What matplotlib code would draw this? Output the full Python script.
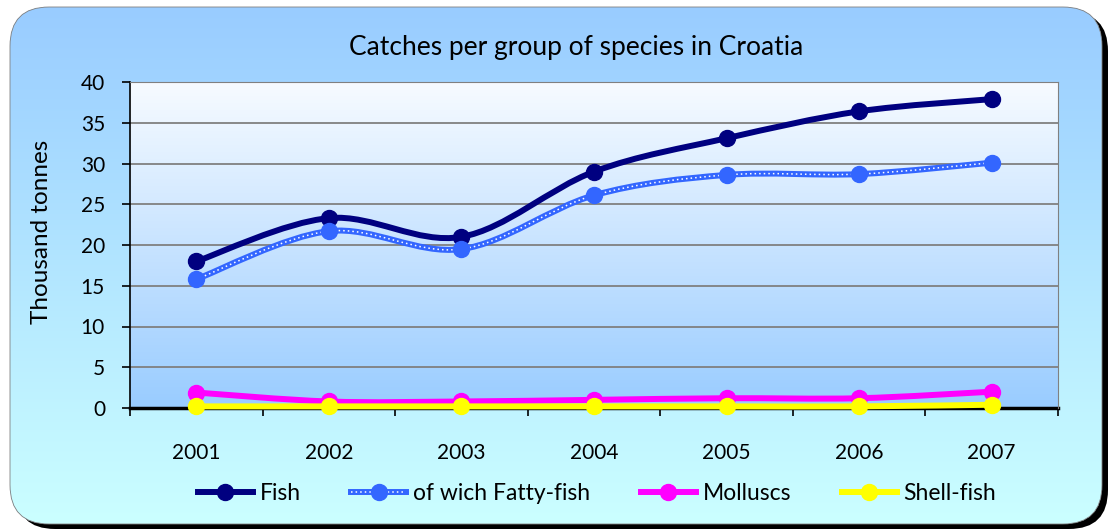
import numpy as np
import matplotlib
matplotlib.use('Agg')
from matplotlib import pyplot as plt
from matplotlib.patches import FancyBboxPatch, PathPatch
from matplotlib.path import Path
from matplotlib.lines import Line2D
from matplotlib.colors import LinearSegmentedColormap

plt.rcParams['font.family'] = ['Lato', 'DejaVu Sans']

years = ['2001', '2002', '2003', '2004', '2005', '2006', '2007']
fish = [18.0, 23.3, 21.0, 29.0, 33.1, 36.4, 37.9]
fatty_fish = [15.8, 21.7, 19.5, 26.1, 28.6, 28.7, 30.1]
molluscs = [1.9, 0.8, 0.8, 1.0, 1.2, 1.2, 2.0]
shell_fish = [0.2, 0.2, 0.2, 0.2, 0.2, 0.2, 0.4]


def smooth_path(xs, ys):
    # Catmull-Rom style bezier like Excel's smoothed lines
    pts = np.column_stack([xs, ys]).astype(float)
    ext = np.vstack([pts[0], pts, pts[-1]])
    verts = [pts[0]]
    codes = [Path.MOVETO]
    for i in range(len(pts) - 1):
        p0, p1, p2, p3 = ext[i], ext[i + 1], ext[i + 2], ext[i + 3]
        c1 = p1 + (p2 - p0) / 6
        c2 = p2 - (p3 - p1) / 6
        verts += [c1, c2, p2]
        codes += [Path.CURVE4] * 3
    return Path(verts, codes)


W, H = 1117, 531
fig = plt.figure(figsize=(W / 100, H / 100), dpi=100)
fig.patch.set_facecolor('white')

# outer rounded frame with shadow and gradient, on a background axes
bx0, by0, bx1, by1 = 10 / W, 1 - 524 / H, 1102 / W, 1 - 7 / H
bg_ax = fig.add_axes([0, 0, 1, 1], zorder=-5)
bg_ax.set_axis_off()


def box(dx=0.0, dy=0.0, **kw):
    return FancyBboxPatch((bx0 + dx, by0 + dy), bx1 - bx0, by1 - by0,
                          boxstyle='round,pad=0,rounding_size=0.035',
                          transform=bg_ax.transAxes, mutation_aspect=W / H, **kw)


bg_ax.add_patch(box(6 / W, -5 / H, facecolor='black', edgecolor='none', zorder=1))
bg_ax.add_patch(box(facecolor='#99ccff', edgecolor='none', zorder=2))
bg_cmap = LinearSegmentedColormap.from_list('bg', ['#99ccff', '#cbffff'])
grad = np.linspace(0, 1, 256).reshape(-1, 1)
im = bg_ax.imshow(grad, cmap=bg_cmap, aspect='auto',
                  extent=[bx0, bx1, by0, by1], zorder=3)
clip = box(facecolor='none', edgecolor='none')
bg_ax.add_patch(clip)
clip.set_visible(False)
im.set_clip_path(clip)
bg_ax.add_patch(box(facecolor='none', edgecolor='#7f7f7f', linewidth=0.6, zorder=4))
bg_ax.set_xlim(0, 1)
bg_ax.set_ylim(0, 1)

ax = fig.add_axes([130 / W, 1 - 408 / H, 928 / W, 326 / H])
ax.patch.set_alpha(0)
pa_cmap = LinearSegmentedColormap.from_list('pa', ['#f7fbff', '#99ccff'])
ax.imshow(grad, cmap=pa_cmap, aspect='auto', extent=[0, 1, 0, 1],
          transform=ax.transAxes, zorder=0)

x = np.arange(1, len(years) + 1)
LW = 4.3
MS = 11.5

ax.add_patch(PathPatch(smooth_path(x, fish), fill=False, edgecolor='#000080',
                       linewidth=LW, zorder=3))
ax.plot(x, fish, 'o', color='#000080', markersize=MS, zorder=4, clip_on=False)

ax.add_patch(PathPatch(smooth_path(x, fatty_fish), fill=False, edgecolor='#3366ff',
                       linewidth=LW, zorder=5))
ax.add_patch(PathPatch(smooth_path(x, fatty_fish), fill=False, edgecolor='white',
                       linewidth=1.1, linestyle=(0, (1, 2)), zorder=5))
ax.plot(x, fatty_fish, 'o', color='#3366ff', markersize=MS, zorder=6, clip_on=False)

ax.add_patch(PathPatch(smooth_path(x, molluscs), fill=False, edgecolor='#ff00ff',
                       linewidth=LW, zorder=7))
ax.plot(x, molluscs, 'o', color='#ff00ff', markersize=MS, zorder=8, clip_on=False)

ax.add_patch(PathPatch(smooth_path(x, shell_fish), fill=False, edgecolor='#ffff00',
                       linewidth=LW, zorder=9, clip_on=False))
ax.plot(x, shell_fish, 'o', color='#ffff00', markersize=MS, zorder=10, clip_on=False)

ax.set_xlim(0.5, 7.5)
ax.set_ylim(0, 40)
ax.set_yticks(range(0, 41, 5))
ax.yaxis.grid(True, color='#808080', linewidth=1.3, zorder=1)
ax.set_axisbelow(True)
ax.set_xticks(np.arange(0.5, 8, 1))
ax.set_xticklabels([])
ax.set_xticks(x, minor=True)
ax.set_xticklabels(years, minor=True, fontsize=15)
ax.tick_params(axis='x', which='major', direction='out', length=6, width=1.2)
ax.tick_params(axis='x', which='minor', length=0, pad=25)
ax.tick_params(axis='y', direction='out', length=6, width=1.2, labelsize=15, pad=12)
for s in ['top', 'right']:
    ax.spines[s].set_color('#808080')
ax.spines['left'].set_linewidth(1.2)
ax.spines['bottom'].set_linewidth(2.5)
ax.spines['bottom'].set_zorder(2)

fig.text(42 / W, 1 - 232 / H, 'Thousand tonnes', rotation=90,
         ha='center', va='center', fontsize=17.5)
fig.text(576 / W, 1 - 47 / H, 'Catches per group of species in Croatia',
         ha='center', va='center', fontsize=19)

h_fish = Line2D([], [], color='#000080', linewidth=LW, marker='o', markersize=MS)
h_fat = (Line2D([], [], color='#3366ff', linewidth=LW),
         Line2D([], [], color='white', linewidth=1.1, linestyle=(0, (1, 2))),
         Line2D([], [], color='#3366ff', linestyle='none', marker='o', markersize=MS))
h_mol = Line2D([], [], color='#ff00ff', linewidth=LW, marker='o', markersize=MS)
h_shell = Line2D([], [], color='#ffff00', linewidth=LW, marker='o', markersize=MS)
fig.legend([h_fish, h_fat, h_mol, h_shell],
           ['Fish', 'of wich Fatty-fish', 'Molluscs', 'Shell-fish'],
           loc='center', bbox_to_anchor=(597 / W, 1 - 494 / H), ncol=4,
           frameon=False, fontsize=16.5, handlelength=2.4, handletextpad=0.3,
           columnspacing=2.2)

fig.savefig('out.png', dpi=100)
plt.close()
